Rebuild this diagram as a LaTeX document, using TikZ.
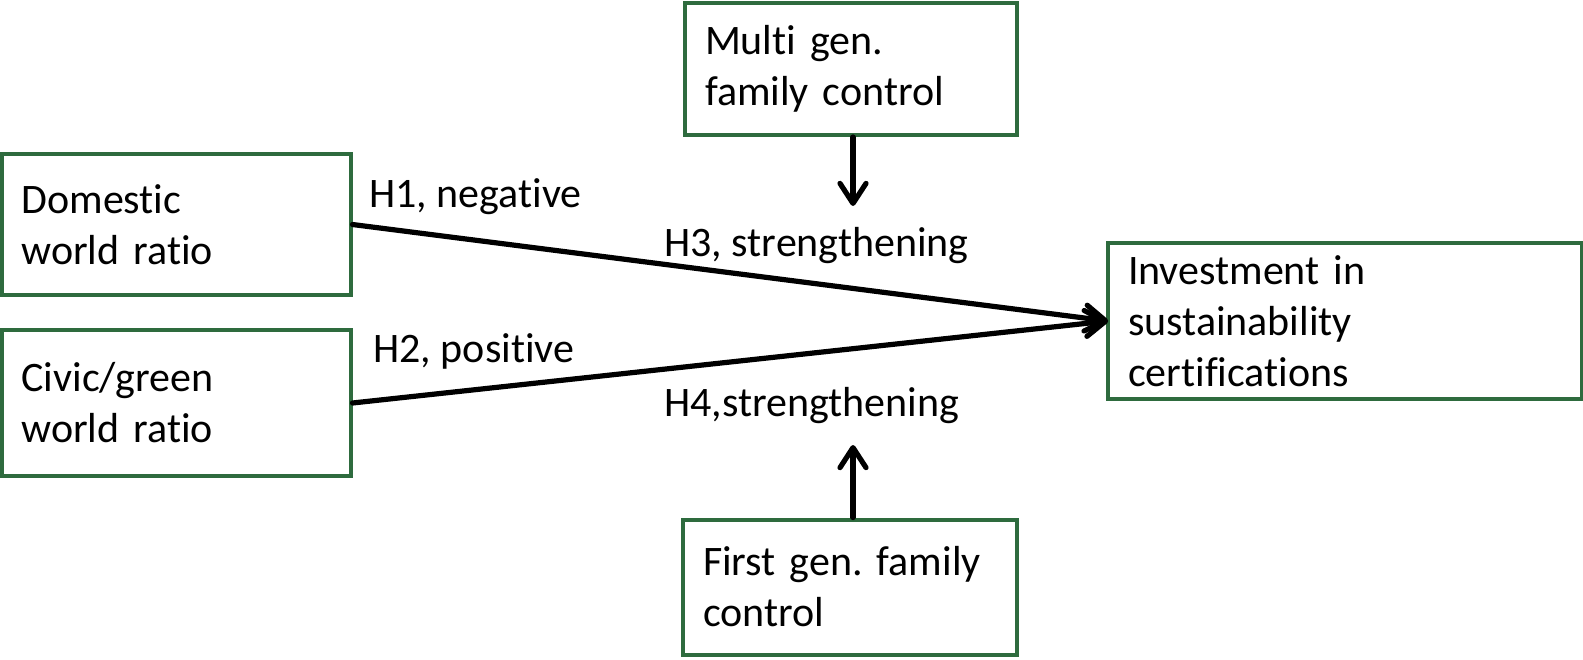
\documentclass[tikz,border=0pt]{standalone}
\usepackage{fontspec}
\setmainfont{Carlito}[Ligatures={NoCommon}]
\usepackage{xcolor}
\usepackage{tikz}
\usetikzlibrary{arrows.meta, positioning}
\definecolor{boxgreen}{HTML}{2E6B3E}
\frenchspacing

\begin{document}
\begin{tikzpicture}[
    x=0.5pt, y=-0.5pt,
    every node/.style={font=\fontsize{21}{25.5}\selectfont},
    box/.style={draw=boxgreen, line width=2pt, align=left, inner xsep=10pt, inner ysep=0pt},
    hyp/.style={line width=2.6pt, line cap=round, line join=round,
        -{Straight Barb[length=10pt, width=13pt, line cap=round, line join=round]}},
    lbl/.style={anchor=base west, inner sep=0pt}
]
\useasboundingbox (0,0) rectangle (1583,659);

\node[box, text width=154.5pt, minimum height=70.5pt] (dom) at (176,224.5) {Domestic\\world ratio};
\node[box, text width=154.5pt, minimum height=73pt] (civic) at (176,403) {Civic/green\\world ratio};
\node[box, text width=146pt, minimum height=66pt] (multi) at (851,69) {Multi gen.\\family control};
\node[box, text width=217pt, minimum height=78pt] (invest) at (1345,321) {Investment in\\sustainability\\certifications};
\node[box, text width=147pt, minimum height=67.5pt] (first) at (850,587) {First gen. family\\control};

\node[lbl] (h1) at (369,207) {H1, negative};
\node[lbl] (h2) at (373,362) {H2, positive};
\node[lbl] (h3) at (664,256) {H3, strengthening};
\node[lbl] (h4) at (664,416) {H4,strengthening};

\coordinate (tip) at (1108,321);
\coordinate (h3tip) at (853,206);
\coordinate (h4tip) at (853,445);

\draw[hyp] (dom.east) -- (tip);
\draw[hyp] (civic.east) -- (tip);
\draw[hyp] (multi.south -| h3tip) -- (h3tip);
\draw[hyp] (first.north -| h4tip) -- (h4tip);
\end{tikzpicture}
\end{document}
